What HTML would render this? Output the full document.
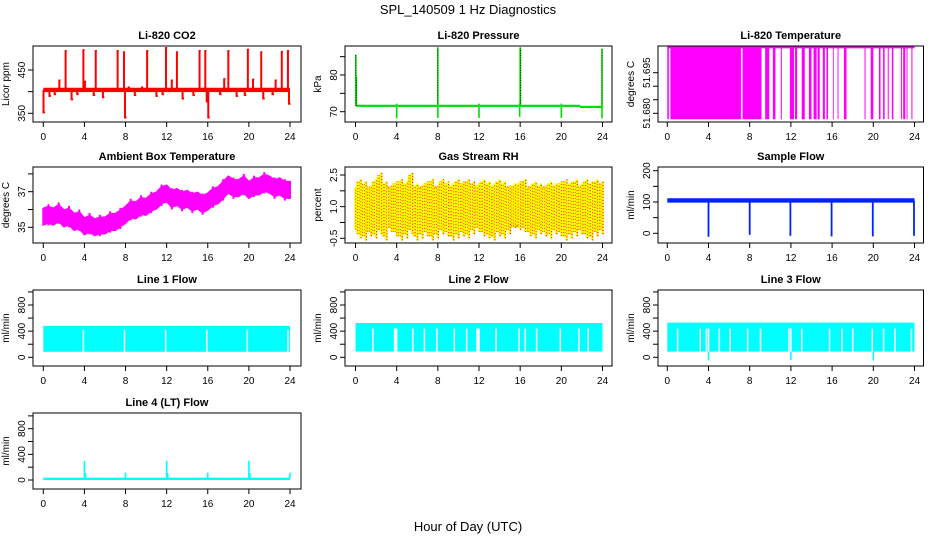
<!DOCTYPE html>
<html><head><meta charset="utf-8">
<style>
html,body{margin:0;padding:0;background:#fff;}
svg{display:block;font-family:"Liberation Sans",Arial,sans-serif;}
</style></head>
<body>
<svg id="chart" width="936" height="540" viewBox="0 0 936 540">
<defs>
<pattern id="rhpat" width="3" height="3" patternUnits="userSpaceOnUse">
<rect width="3" height="3" fill="#ffff00"/><rect x="0" y="0" width="1.6" height="1.6" fill="#ff2000"/>
</pattern>
</defs>
<text x="468" y="14" font-size="13" text-anchor="middle">SPL_140509  1 Hz Diagnostics</text>
<text x="468" y="531" font-size="13" text-anchor="middle">Hour of Day (UTC)</text>
</svg>
<script>
// ---------- data ----------
const xTicks = [0,4,8,12,16,20,24];
const co2Base = 404;
const co2SpikeT = [2.17,3.9,5.1,7.23,7.85,10.1,11.94,13.0,15.2,15.76,17.6,18.0,19.9,21.2,23.2,23.8,1.56,4.05,12.5,20.4,22.6,9.6,8.3];
const co2SpikeV = [496,498,496,496,493,496,503,493,496,496,431,496,499,493,494,496,428,425,428,430,428,412,412];
const co2DipT = [0.02,0.6,1.1,2.75,3.3,4.9,5.8,7.95,8.9,11.0,11.6,13.55,14.6,15.9,16.05,17.2,18.8,19.6,21.4,22.3,23.9];
const co2DipV = [350,388,392,380,392,390,385,338,390,388,392,382,390,375,338,392,388,390,382,392,370];
const ambT = [0,0.5,1,1.5,2,2.5,3,3.5,4,4.5,5,5.5,6,6.5,7,7.5,8,8.5,9,9.5,10,10.5,11,11.5,12,12.5,13,13.5,14,14.5,15,15.5,16,16.5,17,17.5,18,18.5,19,19.5,20,20.5,21,21.5,22,22.5,23,23.5,24];
const ambV = [35.6,35.7,35.6,35.8,35.5,35.6,35.3,35.4,35.05,35.2,35.0,35.1,35.1,35.3,35.3,35.5,35.7,36.0,35.95,36.2,36.15,36.4,36.5,36.8,36.9,36.6,36.7,36.5,36.6,36.4,36.5,36.3,36.45,36.7,36.8,37.1,37.4,37.2,37.2,37.4,37.1,37.3,37.3,37.5,37.4,37.2,37.3,37.1,37.1];
const tLow = 51.6778, tHigh = 51.7044;
const tLowStart = [0,0.3,7.3,9.5,10.25,11.02,11.9,12.4,13.05,13.75,14.2,14.6,15.1,15.45,16.08,16.53,17.15,19.15,19.75,20.55,20.95,21.4,21.8,22.68,22.9,23.23,23.7];
const tLowEnd   = [0.15,7.15,9.15,9.9,10.5,11.12,12.3,12.6,13.35,14.0,14.5,14.8,15.3,15.6,16.16,16.62,17.4,19.25,20.0,20.7,21.1,21.5,21.95,22.78,23.1,23.32,23.8];
const presBase = 71.6;
const presUpT = [0.03,0.08,8.0,16.0,16.03,23.95];
const presUpV = [85.5,79.5,87.5,87.5,87.4,87.2];
const presDnT = [4.0,8.0,12.0,15.95,20.0,23.95];
const presDnV = [68.2,68.3,68.3,68.6,68.3,68.2];
const rhT = ambT;
const rhUp = [1.9,2.3,2.2,2.0,2.3,2.6,2.2,2.0,2.2,2.3,2.2,2.6,2.1,2.0,2.2,2.3,2.0,2.3,2.2,2.1,2.3,2.2,2.3,2.2,2.1,2.3,2.2,2.1,2.3,2.2,2.0,2.1,2.2,2.3,2.0,2.2,2.1,2.0,2.2,2.1,2.2,2.3,2.2,2.3,2.1,2.3,2.2,2.3,2.2];
const rhDn = [-0.1,-0.5,-0.6,-0.4,-0.5,-0.3,-0.6,-0.2,-0.4,-0.6,-0.5,-0.3,-0.6,-0.5,-0.4,-0.6,-0.5,-0.3,-0.4,-0.6,-0.5,-0.4,-0.5,-0.3,-0.2,-0.4,-0.5,-0.6,-0.4,-0.5,-0.3,0.0,-0.1,-0.2,-0.4,-0.5,-0.3,-0.4,-0.5,-0.3,-0.4,-0.6,-0.5,-0.4,-0.3,-0.5,-0.6,-0.4,-0.3];
const flowBase = 104;
const flowDipT = [4.0,8.0,11.95,15.95,19.95,23.95];
const flowDipV = [-11,-5,-8,-10,-10,-8];
const l1Lo = 85, l1Hi = 480, l1GapTop = 420;
const l1Gaps = [3.9,7.9,11.9,15.9,19.85,23.8];
const l2Lo = 88, l2Hi = 525, l2GapTop = 440;
const l2Gaps = [1.68,3.8,3.9,4.0,5.56,6.7,7.9,9.6,10.8,11.8,11.9,12.0,13.65,15.9,16.5,17.6,19.9,21.7,22.6];
const l3Lo = 87, l3Hi = 530, l3GapTop = 440;
const l3Gaps = [1.0,3.2,3.8,4.0,5.05,6.1,7.8,9.05,11.8,12.0,13.05,15.75,16.95,18.0,19.9,21.0,22.1,23.7];
const l3DipT = [4.0,12.0,20.0];
const l3DipV = [-50,-40,-50];
const l4Base = 22;
const l4SpikeT = [4.0,4.1,8.0,12.0,12.1,16.0,20.0,20.1,24.0];
const l4SpikeV = [300,110,115,300,110,115,300,110,115];

// ---------- layout ----------
const NS = 'http://www.w3.org/2000/svg';
const svg = document.getElementById('chart');
const COLS = [{l:33,r:301,x0:43.3,x24:290},{l:345,r:612,x0:355.5,x24:602.5},{l:658,r:923.5,x0:667.3,x24:914.5}];
const ROWS = [[46,122],[167,243],[290,366],[413,489]];
function mk(tag, attrs, parent){const e=document.createElementNS(NS,tag);for(const k in attrs)e.setAttribute(k,attrs[k]);(parent||svg).appendChild(e);return e;}

function panel(name,col,row,title,ylab,ref,yTicks,yLabels){
  const c=COLS[col], r=ROWS[row];
  const g=mk('g',{});
  
  
  const sx=t=>c.x0+(t)*(c.x24-c.x0)/24;
  const sy=v=>ref[1]+(v-ref[0])*(ref[3]-ref[1])/(ref[2]-ref[0]);
  const marks=mk('g',{},g);
  
  
  const box=mk('rect',{x:c.l,y:r[0],width:c.r-c.l,height:r[1]-r[0],fill:'none',stroke:'#000','stroke-width':1},g);
  
  
  const tt=mk('text',{x:(c.l+c.r)/2,y:r[0]-7,'font-size':11,'font-weight':'bold','text-anchor':'middle'},g);
  tt.textContent=title;
  
  
  const yl=mk('text',{x:0,y:0,'font-size':10,'text-anchor':'middle',transform:`translate(${c.l-24},${(r[0]+r[1])/2}) rotate(-90)`},g);
  yl.textContent=ylab;
  
  
  xTicks.forEach(t=>{
    const tk=mk('line',{x1:sx(t),x2:sx(t),y1:r[1],y2:r[1]+5,stroke:'#000'},g);
    
    
    const lb=mk('text',{x:sx(t),y:r[1]+18,'font-size':10,'text-anchor':'middle'},g);
    lb.textContent=String(t);
    
    
  });
  const xa=mk('line',{x1:sx(0),x2:sx(24),y1:r[1],y2:r[1],stroke:'#000'},g);
  
  
  yTicks.forEach(v=>{
    const tk=mk('line',{x1:c.l-5,x2:c.l,y1:sy(v),y2:sy(v),stroke:'#000'},g);
    
    
  });
  yLabels.forEach(v=>{
    const lb=mk('text',{x:0,y:0,'font-size':10,'text-anchor':'middle',transform:`translate(${c.l-8},${sy(v)}) rotate(-90)`},g);
    lb.textContent=String(v);
    
    
  });
  return {sx,sy,g:marks};
}
function vbar(p,t,v0,v1,w,color,nm){
  const y0=p.sy(v0),y1=p.sy(v1);
  const e=mk('rect',{x:p.sx(t)-w/2,y:Math.min(y0,y1),width:w,height:Math.abs(y1-y0),fill:color},p.g);
  
  
  return e;
}
function hband(p,t0,t1,v0,v1,color,nm){
  const y0=p.sy(v0),y1=p.sy(v1);
  const e=mk('rect',{x:p.sx(t0),y:Math.min(y0,y1),width:p.sx(t1)-p.sx(t0),height:Math.abs(y1-y0),fill:color},p.g);
  
  
  return e;
}

// CO2
let p=panel('co2',0,0,'Li-820 CO2','Licor ppm',[450,70,350,113.3],[350,400,450],[350,450]);
hband(p,0,24,co2Base-5,co2Base+5,'#ff0000','co2-baseline');
co2SpikeT.forEach((t,i)=>{vbar(p,t,co2Base,co2SpikeV[i],2,'#ff0000','co2-spike');hband(p,t,t+0.12,co2SpikeV[i]-3,co2SpikeV[i],'#ff0000','co2-spike-cap');});
co2DipT.forEach((t,i)=>{vbar(p,t,co2Base,co2DipV[i],2,'#ff0000','co2-dip');hband(p,t,t+0.15,co2DipV[i],co2DipV[i]+4,'#ff0000','co2-dip-cap');});

// Li-820 pressure
p=panel('pressure',1,0,'Li-820 Pressure','kPa',[80,75,70,111.7],[70,75,80,85],[70,80]);
hband(p,0.05,21.8,presBase-0.3,presBase+0.3,'#00dd00','pressure-baseline');
hband(p,21.8,24,presBase-0.6,presBase,'#00dd00','pressure-baseline-end');
presUpT.forEach((t,i)=>{vbar(p,t,presBase,presUpV[i],1.6,'#00dd00','pressure-spike');const y0=p.sy(presBase),y1=p.sy(presUpV[i]);const d=mk('line',{x1:p.sx(t),x2:p.sx(t),y1:y0,y2:y1,stroke:'#000','stroke-width':0.8,'stroke-dasharray':'1,1.5'},p.g);});
presDnT.forEach((t,i)=>{vbar(p,t,presBase+0.6,presDnV[i],1.6,'#00dd00','pressure-dip');});

// Li-820 temp
p=panel('li820-temp',2,0,'Li-820 Temperature','degrees C',[51.695,72.7,51.680,113.3],[51.680,51.685,51.690,51.695],['51.680','51.695']);
tLowStart.forEach((t,i)=>{hband(p,t,tLowEnd[i],tLow,tHigh,'#ff00ff','li820-temp-low-interval');});
hband(p,0,24,tHigh-0.0004,tHigh+0.0004,'#ff00ff','li820-temp-high-line');

// Ambient
p=panel('ambient-temp',0,1,'Ambient Box Temperature','degrees C',[37,191.7,35,227.3],[35,36,37,38],[35,37]);
(function(){let up=[],dn=[];ambT.forEach((t,i)=>{up.push(p.sx(t)+','+p.sy(ambV[i]+0.45));dn.unshift(p.sx(t)+','+p.sy(ambV[i]-0.45));});
const e=mk('polygon',{points:up.concat(dn).join(' '),fill:'#ff00ff',stroke:'#ff00ff','stroke-width':2},p.g);})();
ambT.forEach((t,i)=>{if(i%2===1)vbar(p,t,ambV[i]-0.6,ambV[i]+0.6,2,'#ff00ff','ambient-temp-spike');});

// RH
p=panel('rh',1,1,'Gas Stream RH','percent',[2.5,175,-0.5,238.3],[-0.5,0.25,1.0,1.75,2.5],['-0.5','1.0','2.5']);
hband(p,0,24,0.0,1.95,'url(#rhpat)','rh-core-band');
rhT.forEach((t,i)=>{
  vbar(p,t,rhDn[i],rhUp[i],2.4,'#ffff00','rh-spike');
  const d=mk('line',{x1:p.sx(t)+0.5,x2:p.sx(t)+0.5,y1:p.sy(rhDn[i]),y2:p.sy(rhUp[i]),stroke:'#ff2000','stroke-width':1.2,'stroke-dasharray':'1.2,1.8'},p.g);
  
  
  [0.17,0.33].forEach(o=>{const t2=t+o;if(t2<=24){const j=(i+1)%rhUp.length;
    vbar(p,t2,(rhDn[j]+0.2),(rhUp[j]-0.1),2.2,'#ffff00','rh-spike-minor');
    const d2=mk('line',{x1:p.sx(t2)+0.5,x2:p.sx(t2)+0.5,y1:p.sy(rhDn[j]+0.2),y2:p.sy(rhUp[j]-0.1),stroke:'#ff2000','stroke-width':1.2,'stroke-dasharray':'1.2,1.8'},p.g);
    
    }});
});

// Sample flow
p=panel('sample-flow',2,1,'Sample Flow','ml/min',[200,170.7,0,233.3],[0,50,100,150,200],[0,100,200]);
hband(p,0,24,flowBase-6,flowBase+8,'#0022ff','sample-flow-baseline');
flowDipT.forEach((t,i)=>{vbar(p,t,flowBase,flowDipV[i],1.8,'#0022ff','sample-flow-dip');});

// Line flows
function lineFlow(name,col,title,lo,hi,gapTop,gaps){
  const q=panel(name,col,2,title,'ml/min',[800,305,0,357.3],[0,200,400,600,800,1000],[0,400,800]);
  hband(q,0,24,lo,hi,'#00ffff',name+'-band');
  gaps.forEach(t=>{vbar(q,t,lo-2,gapTop,1.5,'#ffffff',name+'-gap');});
  return q;
}
lineFlow('line1-flow',0,'Line 1 Flow',l1Lo,l1Hi,l1GapTop,l1Gaps);
lineFlow('line2-flow',1,'Line 2 Flow',l2Lo,l2Hi,l2GapTop,l2Gaps);
p=lineFlow('line3-flow',2,'Line 3 Flow',l3Lo,l3Hi,l3GapTop,l3Gaps);
l3DipT.forEach((t,i)=>{vbar(p,t,l3Lo,l3DipV[i],1.5,'#00ffff','line3-flow-dip');});

// Line 4
p=panel('line4-flow',0,3,'Line 4 (LT) Flow','ml/min',[800,428.7,0,480],[0,200,400,600,800,1000],[0,400,800]);
hband(p,0,24,0,l4Base+15,'#00ffff','line4-flow-baseline');
l4SpikeT.forEach((t,i)=>{vbar(p,t,l4Base,l4SpikeV[i],1.6,'#00ffff','line4-flow-spike');});
</script>
</body></html>
